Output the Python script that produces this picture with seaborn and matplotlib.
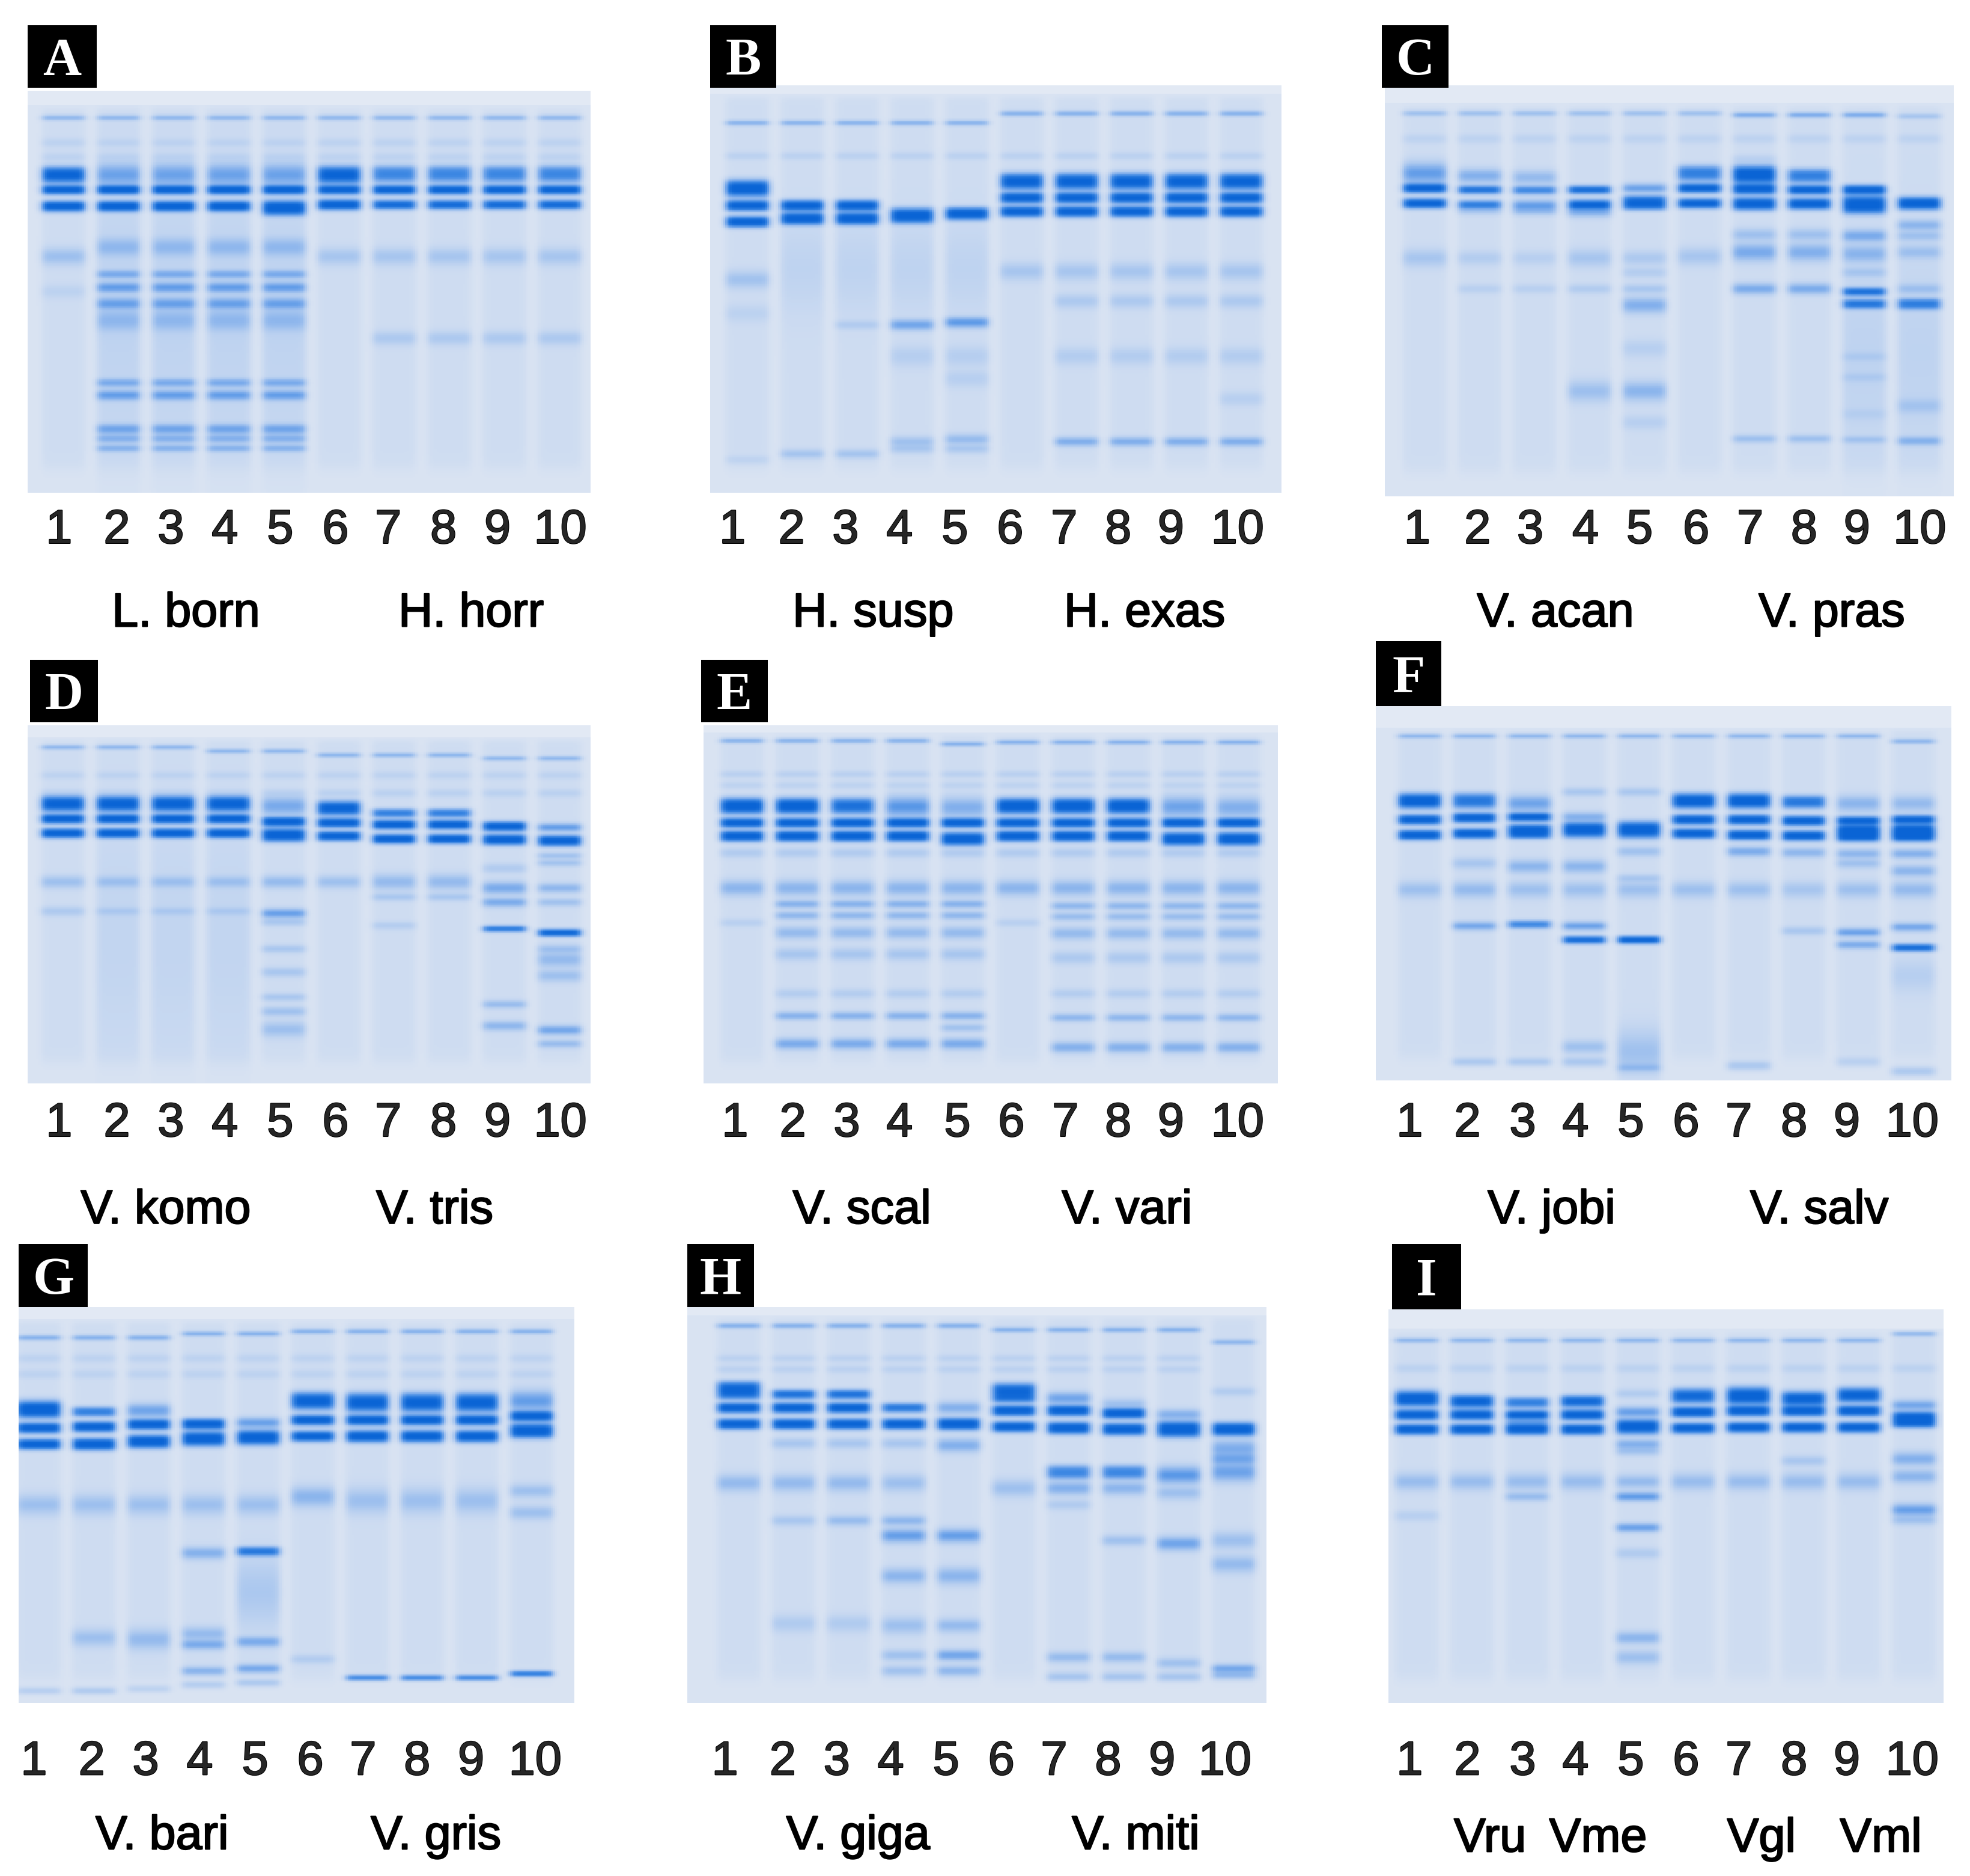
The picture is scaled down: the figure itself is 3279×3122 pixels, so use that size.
import numpy as np
import matplotlib
matplotlib.use("Agg")
import matplotlib.pyplot as plt
import matplotlib.patheffects as pe
import seaborn as sns
from matplotlib.colors import LinearSegmentedColormap
from matplotlib.patches import Rectangle

sns.set_style("white")
plt.rcParams["font.family"] = ["Liberation Sans", "DejaVu Sans"]

# ---------------- data ----------------
lane_labels = [str(i) for i in range(1, 11)]
panel_letters = ["A", "B", "C", "D", "E", "F", "G", "H", "I"]

species_A = ["L. born", "H. horr"]
species_B = ["H. susp", "H. exas"]
species_C = ["V. acan", "V. pras"]
species_D = ["V. komo", "V. tris"]
species_E = ["V. scal", "V. vari"]
species_F = ["V. jobi", "V. salv"]
species_G = ["V. bari", "V. gris"]
species_H = ["V. giga", "V. miti"]
species_I = ["Vru", "Vme", "Vgl", "Vml"]

# bands: (lanes, relative migration 0=top..1=bottom, stain strength, band spread)
bands_A = [
    ("1-10", 0.068, 0.45, 0.003), ("1-10", 0.130, 0.12, 0.005), ("1-10", 0.166, 0.12, 0.005),
    ("1", 0.210, 0.95, 0.012), ("2-5", 0.210, 0.55, 0.013), ("6", 0.210, 0.95, 0.013),
    ("7-10", 0.208, 0.70, 0.012), ("1-10", 0.247, 1.00, 0.007), ("1-4", 0.288, 1.00, 0.008),
    ("5", 0.292, 1.00, 0.011), ("6", 0.284, 1.00, 0.008), ("7-10", 0.284, 0.90, 0.007),
    ("1", 0.413, 0.30, 0.010), ("6-10", 0.413, 0.25, 0.010), ("1", 0.500, 0.12, 0.008),
    ("2-5", 0.560, 0.10, 0.180), ("2-5", 0.390, 0.35, 0.012), ("2-5", 0.457, 0.50, 0.005),
    ("2-5", 0.490, 0.60, 0.006), ("2-5", 0.530, 0.55, 0.007), ("2-5", 0.572, 0.35, 0.014),
    ("2-5", 0.727, 0.50, 0.005), ("2-5", 0.758, 0.60, 0.006), ("2-5", 0.842, 0.55, 0.006),
    ("2-5", 0.866, 0.45, 0.005), ("2-5", 0.890, 0.45, 0.004), ("7-10", 0.616, 0.22, 0.008),
]
bands_B = [
    ("1-5", 0.092, 0.50, 0.003), ("6-10", 0.069, 0.50, 0.003), ("1-10", 0.173, 0.14, 0.004),
    ("1", 0.253, 1.00, 0.012), ("1", 0.295, 1.00, 0.008), ("1", 0.335, 1.00, 0.008),
    ("1", 0.477, 0.28, 0.010), ("1", 0.560, 0.12, 0.010), ("1", 0.920, 0.12, 0.005),
    ("2-3", 0.295, 1.00, 0.008), ("2-3", 0.327, 1.00, 0.009), ("2-5", 0.450, 0.10, 0.050),
    ("3", 0.588, 0.20, 0.005), ("2-3", 0.905, 0.28, 0.005), ("4", 0.320, 1.00, 0.011),
    ("4", 0.588, 0.55, 0.006), ("4-5", 0.665, 0.16, 0.012), ("4", 0.875, 0.30, 0.006),
    ("5", 0.315, 1.00, 0.009), ("5", 0.582, 0.65, 0.006), ("5", 0.720, 0.15, 0.010),
    ("5", 0.869, 0.35, 0.006), ("4-5", 0.892, 0.25, 0.005), ("6-10", 0.236, 0.95, 0.012),
    ("6-10", 0.276, 1.00, 0.008), ("6-10", 0.310, 1.00, 0.008), ("6-10", 0.457, 0.25, 0.010),
    ("7-10", 0.530, 0.22, 0.008), ("7-10", 0.665, 0.18, 0.010), ("7-10", 0.875, 0.50, 0.005),
    ("10", 0.770, 0.15, 0.008),
]
bands_C = [
    ("1-6", 0.068, 0.35, 0.003), ("7-9", 0.072, 0.55, 0.003), ("10", 0.075, 0.30, 0.003),
    ("1", 0.214, 0.60, 0.012), ("1", 0.250, 1.00, 0.007), ("1", 0.287, 1.00, 0.007),
    ("1", 0.420, 0.25, 0.010), ("1-10", 0.130, 0.12, 0.005),
    ("2", 0.220, 0.45, 0.008), ("2", 0.254, 0.85, 0.006), ("2", 0.290, 0.75, 0.006),
    ("2", 0.303, 0.30, 0.005), ("2", 0.420, 0.18, 0.008), ("2-3", 0.495, 0.15, 0.005),
    ("3", 0.224, 0.35, 0.008), ("3", 0.255, 0.70, 0.006), ("3", 0.292, 0.60, 0.006),
    ("3", 0.305, 0.35, 0.005), ("3", 0.420, 0.15, 0.008),
    ("4", 0.254, 0.90, 0.006), ("4", 0.290, 0.95, 0.007), ("4", 0.307, 0.50, 0.006),
    ("4", 0.420, 0.25, 0.010), ("4", 0.495, 0.20, 0.005), ("4", 0.744, 0.30, 0.012),
    ("5", 0.250, 0.60, 0.005), ("5", 0.280, 0.85, 0.007), ("5", 0.293, 0.80, 0.006),
    ("5", 0.420, 0.22, 0.008), ("5", 0.455, 0.18, 0.006), ("5", 0.495, 0.25, 0.005),
    ("5", 0.535, 0.45, 0.009), ("5", 0.640, 0.15, 0.010), ("5", 0.744, 0.40, 0.011),
    ("5", 0.820, 0.15, 0.008),
    ("6", 0.214, 0.75, 0.011), ("6", 0.250, 1.00, 0.007), ("6", 0.287, 1.00, 0.007),
    ("6", 0.416, 0.25, 0.010),
    ("7", 0.217, 1.00, 0.013), ("7", 0.252, 1.00, 0.008), ("7", 0.288, 1.00, 0.009),
    ("7-8", 0.363, 0.30, 0.007), ("7", 0.406, 0.50, 0.010), ("7-8", 0.495, 0.50, 0.006),
    ("7-8", 0.860, 0.33, 0.004), ("7", 0.180, 0.15, 0.005),
    ("8", 0.220, 0.75, 0.010), ("8", 0.254, 1.00, 0.007), ("8", 0.288, 1.00, 0.008),
    ("8", 0.406, 0.45, 0.010),
    ("9", 0.254, 1.00, 0.007), ("9", 0.290, 1.00, 0.013), ("9", 0.366, 0.50, 0.007),
    ("9", 0.410, 0.40, 0.010), ("9", 0.455, 0.25, 0.006), ("9", 0.502, 0.85, 0.006),
    ("9", 0.532, 0.80, 0.007), ("9", 0.660, 0.20, 0.006), ("9", 0.710, 0.20, 0.006),
    ("9", 0.800, 0.15, 0.008), ("9", 0.862, 0.30, 0.004), ("9-10", 0.650, 0.10, 0.120),
    ("10", 0.287, 1.00, 0.009), ("10", 0.340, 0.40, 0.006), ("10", 0.366, 0.30, 0.006),
    ("10", 0.406, 0.30, 0.008), ("10", 0.495, 0.30, 0.006), ("10", 0.532, 0.75, 0.008),
    ("10", 0.780, 0.25, 0.010), ("10", 0.865, 0.45, 0.005),
]
bands_D = [
    ("1-3", 0.062, 0.45, 0.003), ("4-5", 0.073, 0.45, 0.003), ("6-8", 0.084, 0.45, 0.003),
    ("9-10", 0.093, 0.45, 0.003), ("1-10", 0.140, 0.12, 0.005), ("1-10", 0.190, 0.14, 0.005),
    ("1-4", 0.220, 0.95, 0.013), ("1-4", 0.262, 1.00, 0.008), ("1-4", 0.302, 1.00, 0.008),
    ("1-4", 0.438, 0.30, 0.008), ("1-4", 0.520, 0.22, 0.006), ("2-4", 0.600, 0.08, 0.150),
    ("5", 0.226, 0.50, 0.012), ("5", 0.270, 1.00, 0.008), ("5", 0.307, 1.00, 0.011),
    ("5", 0.438, 0.35, 0.008), ("5", 0.526, 0.60, 0.006), ("5", 0.550, 0.25, 0.005),
    ("5", 0.625, 0.25, 0.005), ("5", 0.690, 0.25, 0.006), ("5", 0.760, 0.25, 0.005),
    ("5", 0.800, 0.30, 0.006), ("5", 0.850, 0.30, 0.010),
    ("6", 0.232, 0.95, 0.012), ("6", 0.273, 1.00, 0.008), ("6", 0.310, 1.00, 0.008),
    ("6", 0.438, 0.30, 0.008),
    ("7-8", 0.246, 0.75, 0.007), ("7-8", 0.278, 1.00, 0.008), ("7-8", 0.318, 1.00, 0.008),
    ("7-8", 0.438, 0.35, 0.010), ("7-8", 0.480, 0.25, 0.005), ("7", 0.560, 0.18, 0.005),
    ("9", 0.283, 1.00, 0.008), ("9", 0.320, 1.00, 0.009), ("9", 0.400, 0.20, 0.006),
    ("9", 0.455, 0.50, 0.008), ("9", 0.495, 0.50, 0.006), ("9", 0.569, 0.80, 0.005),
    ("9", 0.780, 0.35, 0.005), ("9", 0.840, 0.40, 0.006),
    ("10", 0.286, 0.65, 0.005), ("10", 0.323, 1.00, 0.009), ("10", 0.365, 0.30, 0.004),
    ("10", 0.385, 0.30, 0.004), ("10", 0.455, 0.40, 0.006), ("10", 0.495, 0.30, 0.005),
    ("10", 0.580, 0.95, 0.006), ("10", 0.626, 0.30, 0.006), ("10", 0.655, 0.35, 0.010),
    ("10", 0.700, 0.30, 0.008), ("10", 0.852, 0.55, 0.006), ("10", 0.890, 0.35, 0.005),
]
bands_E = [
    ("1-4", 0.044, 0.50, 0.003), ("5", 0.053, 0.50, 0.003), ("6-10", 0.048, 0.50, 0.003),
    ("1-10", 0.137, 0.15, 0.004), ("1-10", 0.168, 0.12, 0.004),
    ("1-2", 0.226, 1.00, 0.013), ("3", 0.226, 0.85, 0.013), ("4", 0.228, 0.65, 0.013),
    ("5", 0.230, 0.45, 0.013), ("6-8", 0.226, 1.00, 0.013), ("9", 0.228, 0.55, 0.013),
    ("10", 0.230, 0.45, 0.013),
    ("1-10", 0.273, 1.00, 0.008), ("1-4", 0.310, 1.00, 0.009), ("6-8", 0.310, 1.00, 0.009),
    ("5", 0.318, 1.00, 0.011), ("9-10", 0.318, 1.00, 0.011),
    ("1-10", 0.357, 0.20, 0.006), ("1-10", 0.455, 0.40, 0.010),
    ("2-5", 0.500, 0.45, 0.005), ("7-10", 0.505, 0.40, 0.005),
    ("2-5", 0.532, 0.40, 0.005), ("7-10", 0.535, 0.35, 0.005),
    ("2-5", 0.580, 0.35, 0.008), ("7-10", 0.582, 0.35, 0.008),
    ("2-5", 0.640, 0.25, 0.008), ("7-10", 0.650, 0.22, 0.008),
    ("2-5", 0.750, 0.18, 0.006), ("7-10", 0.750, 0.18, 0.006),
    ("2-5", 0.812, 0.45, 0.005), ("7-10", 0.817, 0.40, 0.005),
    ("2-5", 0.890, 0.50, 0.007), ("7-10", 0.900, 0.45, 0.007), ("1", 0.552, 0.15, 0.005),
    ("6", 0.552, 0.15, 0.005), ("5", 0.845, 0.30, 0.005),
]
bands_F = [
    ("1-9", 0.080, 0.45, 0.003), ("10", 0.094, 0.45, 0.003),
    ("1", 0.253, 1.00, 0.012), ("1", 0.303, 1.00, 0.008), ("1", 0.344, 1.00, 0.008),
    ("1", 0.490, 0.30, 0.010),
    ("2", 0.253, 0.80, 0.012), ("2", 0.298, 1.00, 0.008), ("2", 0.340, 1.00, 0.008),
    ("2", 0.420, 0.25, 0.007), ("2", 0.490, 0.35, 0.010), ("2", 0.587, 0.55, 0.005),
    ("2-3", 0.950, 0.30, 0.005),
    ("3", 0.260, 0.55, 0.010), ("3", 0.296, 1.00, 0.007), ("3", 0.327, 0.90, 0.007),
    ("3", 0.342, 0.90, 0.007), ("3", 0.428, 0.40, 0.008), ("3", 0.490, 0.30, 0.010),
    ("3", 0.583, 0.70, 0.006),
    ("4", 0.229, 0.25, 0.005), ("4", 0.296, 0.45, 0.006), ("4", 0.330, 1.00, 0.012),
    ("4", 0.428, 0.40, 0.008), ("4", 0.490, 0.30, 0.010), ("4", 0.587, 0.60, 0.005),
    ("4", 0.624, 0.90, 0.006), ("4", 0.910, 0.30, 0.008), ("4", 0.950, 0.30, 0.006),
    ("5", 0.229, 0.25, 0.005), ("5", 0.330, 1.00, 0.013), ("5", 0.388, 0.30, 0.006),
    ("5", 0.460, 0.25, 0.005), ("5", 0.490, 0.30, 0.010), ("5", 0.624, 1.00, 0.006),
    ("5", 0.930, 0.30, 0.030), ("5", 0.965, 0.40, 0.006),
    ("6", 0.253, 1.00, 0.012), ("6", 0.303, 1.00, 0.008), ("6", 0.340, 1.00, 0.008),
    ("6", 0.490, 0.30, 0.010),
    ("7", 0.253, 1.00, 0.012), ("7", 0.303, 1.00, 0.008), ("7", 0.344, 1.00, 0.008),
    ("7", 0.388, 0.50, 0.006), ("7", 0.490, 0.30, 0.010), ("7", 0.960, 0.30, 0.006),
    ("8", 0.256, 0.80, 0.010), ("8", 0.306, 1.00, 0.008), ("8", 0.346, 1.00, 0.008),
    ("8", 0.391, 0.40, 0.006), ("8", 0.490, 0.25, 0.010), ("8", 0.600, 0.25, 0.005),
    ("9", 0.260, 0.40, 0.010), ("9", 0.306, 1.00, 0.007), ("9", 0.330, 1.00, 0.008),
    ("9", 0.348, 1.00, 0.008), ("9", 0.394, 0.40, 0.006), ("9", 0.420, 0.30, 0.006),
    ("9", 0.490, 0.30, 0.010), ("9", 0.604, 0.60, 0.005), ("9", 0.637, 0.50, 0.005),
    ("9", 0.950, 0.20, 0.006),
    ("10", 0.260, 0.35, 0.010), ("10", 0.303, 1.00, 0.007), ("10", 0.330, 1.00, 0.009),
    ("10", 0.348, 1.00, 0.008), ("10", 0.394, 0.45, 0.006), ("10", 0.440, 0.40, 0.007),
    ("10", 0.490, 0.35, 0.010), ("10", 0.590, 0.55, 0.005), ("10", 0.645, 0.90, 0.006),
    ("10", 0.720, 0.15, 0.020), ("10", 0.975, 0.30, 0.006),
]
bands_G = [
    ("1-3", 0.078, 0.50, 0.003), ("4-5", 0.068, 0.50, 0.003), ("6-10", 0.062, 0.50, 0.003),
    ("1-10", 0.130, 0.12, 0.005), ("1-10", 0.170, 0.12, 0.005),
    ("1", 0.259, 1.00, 0.013), ("1", 0.306, 1.00, 0.008), ("1", 0.347, 1.00, 0.008),
    ("1-5", 0.500, 0.30, 0.012), ("1", 0.970, 0.25, 0.004),
    ("2", 0.265, 0.75, 0.007), ("2", 0.303, 1.00, 0.008), ("2", 0.347, 1.00, 0.009),
    ("2", 0.836, 0.30, 0.010), ("2", 0.970, 0.30, 0.004),
    ("3", 0.262, 0.55, 0.008), ("3", 0.297, 1.00, 0.008), ("3", 0.340, 1.00, 0.010),
    ("3", 0.840, 0.35, 0.012), ("3", 0.965, 0.20, 0.004),
    ("4", 0.296, 1.00, 0.008), ("4", 0.333, 1.00, 0.011), ("4", 0.622, 0.45, 0.007),
    ("4", 0.826, 0.35, 0.008), ("4", 0.853, 0.50, 0.006), ("4", 0.920, 0.45, 0.005),
    ("4", 0.955, 0.25, 0.004),
    ("5", 0.293, 0.60, 0.006), ("5", 0.330, 1.00, 0.011), ("5", 0.618, 0.80, 0.007),
    ("5", 0.720, 0.22, 0.040), ("5", 0.846, 0.50, 0.006), ("5", 0.914, 0.55, 0.005),
    ("5", 0.950, 0.30, 0.004),
    ("6", 0.238, 0.95, 0.013), ("6", 0.286, 1.00, 0.008), ("6", 0.327, 1.00, 0.008),
    ("6", 0.480, 0.40, 0.012), ("6", 0.890, 0.20, 0.005),
    ("7-9", 0.242, 0.95, 0.014), ("7-9", 0.286, 1.00, 0.008), ("7-9", 0.327, 1.00, 0.009),
    ("7-9", 0.490, 0.30, 0.015), ("7-9", 0.937, 0.75, 0.004),
    ("10", 0.238, 0.60, 0.012), ("10", 0.276, 1.00, 0.008), ("10", 0.313, 1.00, 0.011),
    ("10", 0.465, 0.30, 0.008), ("10", 0.520, 0.30, 0.008), ("10", 0.927, 0.85, 0.004),
]
bands_H = [
    ("1-5", 0.048, 0.50, 0.003), ("6-9", 0.058, 0.50, 0.003), ("10", 0.089, 0.45, 0.003),
    ("1-9", 0.130, 0.14, 0.004), ("1-9", 0.158, 0.14, 0.004),
    ("1", 0.204, 0.90, 0.009), ("1", 0.222, 0.80, 0.007), ("1", 0.255, 1.00, 0.008),
    ("1", 0.296, 1.00, 0.008), ("1", 0.445, 0.35, 0.010),
    ("2-3", 0.221, 0.85, 0.007), ("2-3", 0.255, 1.00, 0.008), ("2-3", 0.296, 1.00, 0.008),
    ("2-4", 0.345, 0.25, 0.006), ("2-3", 0.445, 0.35, 0.010), ("2", 0.540, 0.25, 0.006),
    ("3", 0.540, 0.35, 0.006), ("2-3", 0.800, 0.20, 0.010),
    ("4", 0.255, 0.80, 0.007), ("4", 0.296, 1.00, 0.008), ("4", 0.445, 0.30, 0.010),
    ("4", 0.540, 0.40, 0.006), ("4", 0.578, 0.60, 0.008), ("4", 0.680, 0.40, 0.009),
    ("4", 0.805, 0.30, 0.010), ("4", 0.880, 0.30, 0.006), ("4", 0.920, 0.30, 0.006),
    ("5", 0.255, 0.45, 0.007), ("5", 0.296, 1.00, 0.009), ("5", 0.350, 0.45, 0.008),
    ("5", 0.578, 0.60, 0.008), ("5", 0.680, 0.40, 0.010), ("5", 0.805, 0.35, 0.008),
    ("5", 0.880, 0.55, 0.006), ("5", 0.920, 0.40, 0.006),
    ("6", 0.210, 0.90, 0.010), ("6", 0.230, 0.80, 0.007), ("6", 0.262, 1.00, 0.008),
    ("6", 0.303, 1.00, 0.008), ("6", 0.458, 0.30, 0.010),
    ("7", 0.231, 0.55, 0.007), ("7", 0.262, 1.00, 0.008), ("7", 0.306, 1.00, 0.009),
    ("7-8", 0.418, 0.70, 0.010), ("7", 0.458, 0.45, 0.008), ("7", 0.500, 0.20, 0.006),
    ("7-8", 0.885, 0.35, 0.006), ("7-9", 0.935, 0.30, 0.005),
    ("8", 0.245, 0.30, 0.006), ("8", 0.269, 1.00, 0.008), ("8", 0.309, 1.00, 0.009),
    ("8", 0.458, 0.40, 0.008), ("8", 0.590, 0.30, 0.006),
    ("9", 0.272, 0.45, 0.006), ("9", 0.309, 1.00, 0.012), ("9", 0.425, 0.65, 0.010),
    ("9", 0.470, 0.30, 0.008), ("9", 0.598, 0.55, 0.008), ("9", 0.900, 0.30, 0.006),
    ("10", 0.214, 0.20, 0.005), ("10", 0.309, 1.00, 0.010), ("10", 0.357, 0.45, 0.010),
    ("10", 0.384, 0.50, 0.009), ("10", 0.418, 0.55, 0.011), ("10", 0.590, 0.30, 0.010),
    ("10", 0.650, 0.35, 0.010), ("10", 0.914, 0.55, 0.005), ("10", 0.930, 0.40, 0.005),
]
bands_I = [
    ("1-9", 0.079, 0.45, 0.003), ("10", 0.062, 0.45, 0.003), ("1-10", 0.150, 0.13, 0.005),
    ("1", 0.227, 1.00, 0.012), ("1", 0.268, 1.00, 0.008), ("1", 0.305, 1.00, 0.008),
    ("1-4", 0.438, 0.33, 0.010), ("1", 0.525, 0.15, 0.006),
    ("2", 0.234, 0.95, 0.010), ("2", 0.268, 1.00, 0.008), ("2", 0.305, 1.00, 0.008),
    ("3", 0.237, 0.75, 0.008), ("3", 0.268, 1.00, 0.007), ("3", 0.288, 0.60, 0.005),
    ("3", 0.305, 1.00, 0.008), ("3", 0.476, 0.35, 0.005),
    ("4", 0.234, 0.90, 0.009), ("4", 0.268, 1.00, 0.008), ("4", 0.305, 1.00, 0.008),
    ("5", 0.214, 0.20, 0.005), ("5", 0.261, 0.60, 0.006), ("5", 0.298, 1.00, 0.011),
    ("5", 0.343, 0.45, 0.006), ("5", 0.360, 0.30, 0.005), ("5", 0.438, 0.35, 0.008),
    ("5", 0.476, 0.65, 0.005), ("5", 0.555, 0.60, 0.005), ("5", 0.620, 0.20, 0.006),
    ("5", 0.835, 0.40, 0.007), ("5", 0.885, 0.30, 0.008),
    ("6", 0.220, 0.90, 0.011), ("6", 0.261, 1.00, 0.008), ("6", 0.302, 1.00, 0.008),
    ("7", 0.220, 1.00, 0.013), ("7", 0.258, 1.00, 0.008), ("7", 0.300, 1.00, 0.008),
    ("8", 0.227, 0.95, 0.011), ("8", 0.258, 1.00, 0.008), ("8", 0.300, 1.00, 0.008),
    ("8", 0.385, 0.25, 0.006), ("9", 0.218, 0.95, 0.011), ("9", 0.258, 1.00, 0.008),
    ("9", 0.300, 1.00, 0.008), ("6-9", 0.438, 0.33, 0.010),
    ("10", 0.244, 0.55, 0.006), ("10", 0.271, 0.90, 0.007), ("10", 0.288, 0.95, 0.008),
    ("10", 0.380, 0.45, 0.008), ("10", 0.425, 0.40, 0.008), ("10", 0.510, 0.60, 0.007),
    ("10", 0.535, 0.30, 0.006),
]

# ---------------- layout (reference pixels on a 1568 x 1493 grid) ----------------
REF_W, REF_H = 1568.0, 3122 * 1568.0 / 3279
layout = {
    "A": dict(gel=(22, 72, 470, 392), box=(22, 20, 77, 70), lanes=(50.6, 445.5), strip=0.037,
              nums=(47, 93, 136, 179, 223, 267, 309, 353, 396, 446), num_y=418,
              sp=((148, 485), (375, 485)), bands=bands_A, names=species_A),
    "B": dict(gel=(565, 68, 1020, 392), box=(565, 20, 618, 70), lanes=(595, 988), strip=0.02,
              nums=(583, 630, 673, 716, 760, 804, 847, 890, 932, 985), num_y=418,
              sp=((695, 485), (911, 485)), bands=bands_B, names=species_B),
    "C": dict(gel=(1102, 68, 1555, 395), box=(1100, 20, 1153, 70), lanes=(1134, 1527.6), strip=0.042,
              nums=(1128, 1176, 1218, 1262, 1305, 1350, 1393, 1436, 1478, 1528), num_y=418,
              sp=((1238, 485), (1458, 485)), bands=bands_C, names=species_C),
    "D": dict(gel=(22, 577, 470, 862), box=(24, 525, 78, 575), lanes=(50, 445.5), strip=0.034,
              nums=(47, 93, 136, 179, 223, 267, 309, 353, 396, 446), num_y=890,
              sp=((132, 960), (346, 960)), bands=bands_D, names=species_D),
    "E": dict(gel=(560, 577, 1017, 862), box=(558, 525, 611, 575), lanes=(590.8, 985.8), strip=0.02,
              nums=(585, 631, 674, 716, 762, 805, 848, 890, 932, 985), num_y=890,
              sp=((686, 960), (897, 960)), bands=bands_E, names=species_E),
    "F": dict(gel=(1095, 562, 1553, 860), box=(1095, 510, 1147, 562), lanes=(1130, 1522.9), strip=0.057,
              nums=(1122, 1168, 1212, 1254, 1298, 1342, 1384, 1428, 1470, 1522), num_y=890,
              sp=((1235, 960), (1448, 960)), bands=bands_F, names=species_F),
    "G": dict(gel=(15, 1040, 457, 1355), box=(15, 990, 70, 1040), lanes=(31.4, 423.1), strip=0.03,
              nums=(27, 73, 116, 159, 203, 247, 289, 332, 375, 426), num_y=1398,
              sp=((129, 1458), (347, 1458)), bands=bands_G, names=species_G),
    "H": dict(gel=(547, 1040, 1008, 1355), box=(547, 990, 600, 1040), lanes=(588, 982), strip=0.02,
              nums=(577, 623, 666, 709, 753, 797, 839, 882, 925, 975), num_y=1398,
              sp=((683, 1458), (904, 1458)), bands=bands_H, names=species_H),
    "I": dict(gel=(1105, 1042, 1547, 1355), box=(1108, 990, 1163, 1042), lanes=(1127.6, 1523.6), strip=0.05,
              nums=(1122, 1168, 1212, 1254, 1298, 1342, 1384, 1428, 1470, 1522), num_y=1398,
              sp=((1186, 1460), (1272, 1460), (1402, 1460), (1497, 1460)),
              bands=bands_I, names=species_I),
}

W_PX, H_PX = 3279, 3122
S = W_PX / REF_W           # reference px -> output px
PT = 72.0 / 100.0          # output px -> points (dpi 100)
FS = 57                    # label font size
HALF_DIGIT = 13.5          # half height of digits in reference px
heavy = [pe.withStroke(linewidth=1.6, foreground="black")]

stops = [(-0.06, "#e2e9f4"), (0.0, "#d9e3f2"), (0.07, "#cedcf1"), (0.25, "#afcaef"),
         (0.5, "#7babeb"), (0.75, "#3f89e3"), (1.0, "#0a64d5")]
vmin, vmax = stops[0][0], stops[-1][0]
cmap = LinearSegmentedColormap.from_list(
    "gel", [((v - vmin) / (vmax - vmin), c) for v, c in stops])


def lanes_of(spec):
    out = []
    for part in spec.split(","):
        if "-" in part:
            a, b = part.split("-")
            out += list(range(int(a), int(b) + 1))
        else:
            out.append(int(part))
    return out


def band_profile(ys, pos, s, sig):
    if sig <= 0.003:                       # well line
        return s * np.exp(-0.5 * ((ys - pos) / 0.0036) ** 2)
    if s >= 0.7:                           # saturated band: flat-topped
        se = sig * 1.4
        return s * np.exp(-0.5 * np.abs((ys - pos) / se) ** 3)
    se = max(sig * 1.5, 0.0062)            # faint band: diffuse
    return 0.9 * s * np.exp(-0.5 * ((ys - pos) / se) ** 2)


def soften(a, sy=1.4, sx=1.0):
    def kern(s):
        r = np.arange(-4, 5)
        k = np.exp(-0.5 * (r / s) ** 2)
        return k / k.sum()
    ky, kx = kern(sy), kern(sx)
    p = np.pad(a, 4, mode="edge")
    p = np.apply_along_axis(lambda c: np.convolve(c, ky, mode="same"), 0, p)
    p = np.apply_along_axis(lambda r: np.convolve(r, kx, mode="same"), 1, p)
    return p[4:-4, 4:-4]


def gel_grid(bands, xl, xr, strip, nx=260, ny=430):
    xs = xl + (np.arange(nx) + 0.5) / nx * (xr - xl)
    ys = (np.arange(ny) + 0.5) / ny
    masks = {L: 1.0 / (1.0 + np.exp((np.abs(xs - L) - 0.39) / 0.028)) for L in range(1, 11)}
    lane_any = np.clip(sum(masks.values()), 0, 1)
    bg_rows = 1.0 / (1.0 + np.exp(-(ys - strip - 0.01) / 0.004)) * \
        1.0 / (1.0 + np.exp((ys - 0.94) / 0.01))
    layers = [np.zeros((ny, nx))]
    for spec, pos, s, sig in bands:
        prof = band_profile(ys, pos, s, sig)
        lm = sum(masks[L] for L in lanes_of(spec))
        layers.append(prof[:, None] * lm[None, :])
    stack = np.stack(layers)
    top = stack.max(axis=0)
    val = top + 0.35 * (stack.sum(axis=0) - top)
    val += 0.07 * bg_rows[:, None] * lane_any[None, :]
    val = soften(np.clip(val, 0, 1))
    val[ys < strip, :] = vmin
    return val


fig = plt.figure(figsize=(W_PX / 100, H_PX / 100), dpi=100)

for letter in panel_letters:
    P = layout[letter]
    gx0, gy0, gx1, gy1 = P["gel"]
    l1, l10 = P["lanes"]
    pitch = (l10 - l1) / 9.0
    xl = 1 - (l1 - gx0) / pitch
    xr = 10 + (gx1 - l10) / pitch
    grid = gel_grid(P["bands"], xl, xr, P["strip"])
    nyc, nxc = grid.shape

    ax = fig.add_axes([gx0 / REF_W, 1 - gy1 / REF_H, (gx1 - gx0) / REF_W, (gy1 - gy0) / REF_H])
    sns.heatmap(grid, ax=ax, cmap=cmap, vmin=vmin, vmax=vmax, cbar=False,
                xticklabels=False, yticklabels=False, rasterized=True)
    ticks = [(nx - gx0) / (gx1 - gx0) * nxc for nx in P["nums"]]
    ax.set_xticks(ticks)
    ax.set_xticklabels(lane_labels, fontsize=FS, family=["Liberation Sans", "DejaVu Sans"])
    for t in ax.get_xticklabels():
        t.set_path_effects(heavy)
    pad = (P["num_y"] - HALF_DIGIT - gy1) * S * PT
    ax.tick_params(axis="x", length=0, pad=pad, bottom=True)
    ax.set_yticks([])
    for sp in ax.spines.values():
        sp.set_visible(False)

    bx0, by0, bx1, by1 = P["box"]
    fig.add_artist(Rectangle((bx0 / REF_W, 1 - by1 / REF_H), (bx1 - bx0) / REF_W,
                             (by1 - by0) / REF_H, transform=fig.transFigure,
                             facecolor="black", edgecolor="none"))
    fig.text((bx0 + bx1) / 2 / REF_W, 1 - ((by0 + by1) / 2 + 14.5) / REF_H, letter,
             color="white", fontsize=64, fontweight="bold",
             family=["Liberation Serif", "DejaVu Serif"], ha="center", va="baseline")

    for name, (sx, sy) in zip(P["names"], P["sp"]):
        fig.text(sx / REF_W, 1 - (sy + HALF_DIGIT) / REF_H, name, fontsize=FS,
                 ha="center", va="baseline", color="black", path_effects=heavy)

fig.savefig("out.png", dpi=100, facecolor="white")
